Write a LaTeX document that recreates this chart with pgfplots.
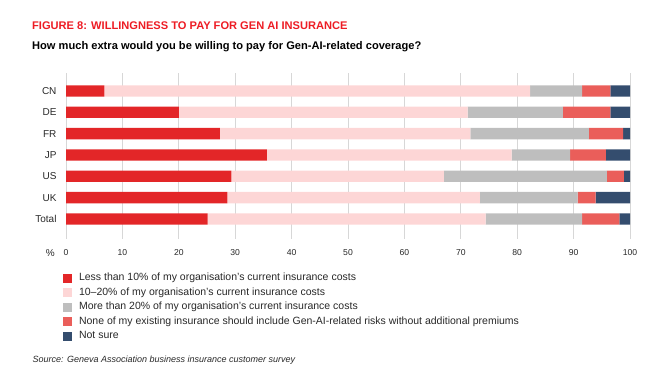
\documentclass[border=0pt]{standalone}
\usepackage{pgfplots}
\usepackage{pgfplotstable}
\pgfplotsset{compat=1.18}
\usepackage{fontspec}
\setmainfont{Liberation Sans}
\definecolor{cA}{RGB}{227,38,40}
\definecolor{cB}{RGB}{253,214,214}
\definecolor{cC}{RGB}{190,190,190}
\definecolor{cD}{RGB}{234,94,90}
\definecolor{cE}{RGB}{52,77,110}
\definecolor{titlered}{RGB}{237,28,36}
\definecolor{gridc}{RGB}{215,215,215}
\definecolor{txt}{RGB}{40,40,40}
\pgfplotstableread{
idx a b c d e
0 6.8 75.5 9.2 5.0 3.5
1 20.0 51.2 16.9 8.4 3.5
2 27.3 44.4 21.0 6.1 1.2
3 35.6 43.4 10.4 6.3 4.3
4 29.3 37.7 28.9 3.0 1.1
5 28.6 44.8 17.3 3.2 6.1
6 25.1 49.3 17.1 6.6 1.9
}\datatable
\begin{document}
\begin{tikzpicture}
\useasboundingbox (0pt,0pt) rectangle (668pt,373pt);
\node[anchor=base west, font=\bfseries\fontsize{11.1}{13}\selectfont, text=titlered, inner sep=0] at (32pt,343pt) {FIGURE 8: WILLINGNESS TO PAY FOR GEN AI INSURANCE};
\node[anchor=base west, font=\bfseries\fontsize{11.1}{13}\selectfont, text=black, inner sep=0] at (32pt,323.5pt) {How much extra would you be willing to pay for Gen-AI-related coverage?};
\node[anchor=base west, font=\itshape\fontsize{9}{11}\selectfont, text=txt, inner sep=0] at (32.5pt,11pt) {Source: Geneva Association business insurance customer survey};
\node[anchor=base east, font=\fontsize{10}{12}\selectfont, text=txt, inner sep=0] at (55pt,116.5pt) {\%};
\begin{axis}[
  at={(66pt,134pt)}, anchor=south west,
  scale only axis, width=564pt, height=166pt,
  xbar stacked, bar width=11.3pt,
  xmin=0, xmax=100, ymin=-0.84, ymax=6.94,
  y dir=reverse,
  ytick={0,1,2,3,4,5,6},
  yticklabels={CN,DE,FR,JP,US,UK,Total},
  xtick={0,10,...,100},
  xmajorgrids, grid style={gridc, line width=0.8pt},
  axis line style={draw=none},
  major tick length=0pt,
  tick style={draw=none},
  xticklabel style={font=\fontsize{8.6}{10}\selectfont, text=txt, yshift=-7pt},
  yticklabel style={font=\fontsize{10}{12}\selectfont, text=txt, xshift=-6pt},
  /pgf/number format/assume math mode=true,
  legend style={at={(axis description cs:-0.0053,-0.205)}, anchor=north west, draw=none, fill=none,
    inner sep=0pt, outer sep=0pt, row sep=4.6pt,
    font=\fontsize{10.5}{12}\selectfont, text=txt,
    nodes={inner sep=0pt, text height=7.5pt, text depth=2.5pt}},
  legend cell align=left,
  legend image code/.code={\fill[#1] (0pt,-4.5pt) rectangle (9pt,4.5pt); \path (16pt,0pt);},
  legend columns=1,
]
\addplot[fill=cA, draw=none] table[x=a, y=idx] {\datatable};
\addplot[fill=cB, draw=none] table[x=b, y=idx] {\datatable};
\addplot[fill=cC, draw=none] table[x=c, y=idx] {\datatable};
\addplot[fill=cD, draw=none] table[x=d, y=idx] {\datatable};
\addplot[fill=cE, draw=none] table[x=e, y=idx] {\datatable};
\legend{Less than 10\% of my organisation’s current insurance costs,
10–20\% of my organisation’s current insurance costs,
More than 20\% of my organisation’s current insurance costs,
None of my existing insurance should include Gen-AI-related risks without additional premiums,
Not sure}
\end{axis}
\end{tikzpicture}
\end{document}
